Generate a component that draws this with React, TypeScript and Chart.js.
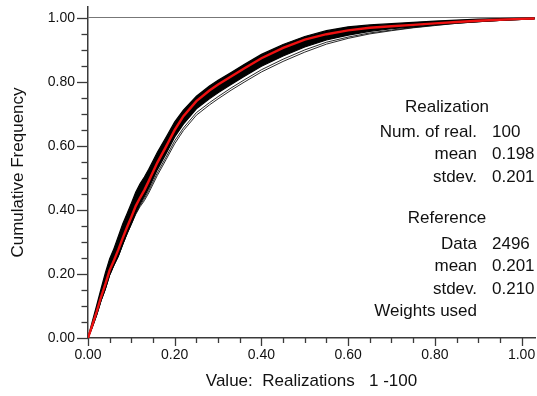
import React, { useEffect, useRef } from "react";
import { Chart, registerables } from "chart.js";

Chart.register(...registerables);

// Sample values (x) at which the cumulative curves are tabulated
const XS = [
  0, 0.01, 0.02, 0.03, 0.04, 0.05, 0.06, 0.07, 0.08, 0.09,
  0.1, 0.11, 0.12, 0.13, 0.14, 0.16, 0.18, 0.2, 0.22, 0.25,
  0.28, 0.3, 0.33, 0.36, 0.4, 0.45, 0.5, 0.55, 0.6, 0.65,
  0.7, 0.75, 0.8, 0.85, 0.9, 0.95, 1.0, 1.03,
];

// Reference data cumulative frequency (red)
const REFERENCE = [
  0.0, 0.04, 0.082, 0.128, 0.168, 0.212, 0.243, 0.276, 0.312, 0.346,
  0.378, 0.412, 0.438, 0.462, 0.49, 0.548, 0.598, 0.65, 0.693, 0.74,
  0.773, 0.792, 0.817, 0.842, 0.874, 0.906, 0.932, 0.949, 0.961, 0.969,
  0.974, 0.978, 0.983, 0.987, 0.991, 0.994, 0.997, 0.998,
];

// Upper and lower envelope of the bulk of the realizations
const BAND_HIGH = [
  0.0, 0.052, 0.102, 0.153, 0.203, 0.248, 0.28, 0.318, 0.356, 0.388,
  0.421, 0.455, 0.482, 0.503, 0.527, 0.58, 0.627, 0.675, 0.712, 0.755,
  0.787, 0.805, 0.829, 0.854, 0.886, 0.917, 0.942, 0.96, 0.972, 0.978,
  0.982, 0.986, 0.99, 0.993, 0.996, 0.998, 0.999, 1.0,
];
const BAND_LOW = [
  0.0, 0.034, 0.072, 0.116, 0.153, 0.197, 0.228, 0.256, 0.292, 0.326,
  0.358, 0.391, 0.419, 0.442, 0.468, 0.526, 0.576, 0.628, 0.668, 0.716,
  0.747, 0.766, 0.792, 0.817, 0.849, 0.881, 0.909, 0.931, 0.946, 0.958,
  0.966, 0.972, 0.979, 0.984, 0.988, 0.992, 0.995, 0.997,
];

// Two realizations running below the bulk
const REAL_LOW_A = [
  0.0, 0.034, 0.072, 0.116, 0.153, 0.197, 0.228, 0.256, 0.292, 0.326,
  0.357, 0.389, 0.414, 0.435, 0.46, 0.516, 0.565, 0.616, 0.656, 0.704,
  0.735, 0.754, 0.781, 0.806, 0.838, 0.871, 0.9, 0.924, 0.94, 0.953,
  0.962, 0.97, 0.977, 0.983, 0.988, 0.992, 0.995, 0.997,
];
const REAL_LOW_B = [
  0.0, 0.034, 0.072, 0.116, 0.153, 0.197, 0.228, 0.256, 0.292, 0.325,
  0.355, 0.386, 0.41, 0.429, 0.453, 0.508, 0.557, 0.607, 0.648, 0.696,
  0.728, 0.747, 0.774, 0.799, 0.831, 0.864, 0.893, 0.918, 0.936, 0.95,
  0.96, 0.969, 0.976, 0.983, 0.988, 0.992, 0.995, 0.997,
];

const X_MAX = 1.031;
const Y_MAX = 1.034;
const TICK_STEP = 0.05;
const LABEL_STEP = 0.2;

const REALIZATION_STATS: [string, string][] = [
  ["Num. of real.", "100"],
  ["mean", "0.198"],
  ["stdev.", "0.201"],
];
const REFERENCE_STATS: [string, string][] = [
  ["Data", "2496"],
  ["mean", "0.201"],
  ["stdev.", "0.210"],
  ["Weights used", ""],
];

const FONT = "'Liberation Sans', Arial, Helvetica, sans-serif";
const INK = "#111";
const AXIS = "#3a3a3a";

const toPoints = (ys: number[]) => XS.map((x, i) => ({ x, y: ys[i] }));

const isMultiple = (v: number, step: number) =>
  Math.abs(v / step - Math.round(v / step)) < 1e-6;

const labelFor = (v: any) => {
  const n = Number(v);
  return isMultiple(n, LABEL_STEP) && n <= 1 + 1e-9 ? n.toFixed(2) : "";
};

// Major/minor tick marks drawn outside the axes
const tickMarks = {
  id: "tickMarks",
  afterDraw(chart: any) {
    const { ctx, scales } = chart;
    const xs = scales.x;
    const ys = scales.y;
    ctx.save();
    ctx.strokeStyle = AXIS;
    ctx.lineWidth = 1.3;
    const n = Math.round(1 / TICK_STEP);
    for (let k = 0; k <= n; k++) {
      const v = k * TICK_STEP;
      const major = k % Math.round(LABEL_STEP / TICK_STEP) === 0;
      const py = Math.round(ys.getPixelForValue(v)) + 0.5;
      const yLen = major ? 11 : 6.5;
      ctx.beginPath();
      ctx.moveTo(ys.right - yLen, py);
      ctx.lineTo(ys.right, py);
      ctx.stroke();
      const px = Math.round(xs.getPixelForValue(v)) + 0.5;
      const xLen = major ? 8 : 5;
      ctx.beginPath();
      ctx.moveTo(px, xs.top);
      ctx.lineTo(px, xs.top + xLen);
      ctx.stroke();
    }
    ctx.restore();
  },
};

// Summary statistics panel
const statsPanel = {
  id: "statsPanel",
  afterDraw(chart: any) {
    const { ctx } = chart;
    ctx.save();
    ctx.fillStyle = INK;
    ctx.font = `17px ${FONT}`;
    ctx.textBaseline = "alphabetic";
    const colRight = 477;
    const colLeft = 492;
    const block = (title: string, rows: [string, string][], y0: number, y1: number) => {
      ctx.textAlign = "center";
      ctx.fillText(title, 447, y0);
      rows.forEach(([k, v], i) => {
        const y = y1 + i * 22.3;
        ctx.textAlign = "right";
        ctx.fillText(k, colRight, y);
        if (v) {
          ctx.textAlign = "left";
          ctx.fillText(v, colLeft, y);
        }
      });
    };
    block("Realization", REALIZATION_STATS, 112, 137);
    block("Reference", REFERENCE_STATS, 223, 249);
    ctx.restore();
  },
};

export default function App() {
  const canvasRef = useRef<HTMLCanvasElement | null>(null);

  useEffect(() => {
    document.body.style.margin = "0";
    const canvas = canvasRef.current;
    if (!canvas) return;

    const chart = new Chart(canvas, {
      type: "scatter",
      data: {
        datasets: [
          {
            label: "Reference",
            data: toPoints(REFERENCE),
            showLine: true,
            borderColor: "#ee1111",
            borderWidth: 2.4,
            pointRadius: 0,
            order: 0,
          },
          {
            label: "Realizations high",
            data: toPoints(BAND_HIGH),
            showLine: true,
            borderColor: "#000",
            backgroundColor: "#000",
            borderWidth: 1.2,
            pointRadius: 0,
            fill: "+1",
            order: 2,
          },
          {
            label: "Realizations low",
            data: toPoints(BAND_LOW),
            showLine: true,
            borderColor: "#000",
            borderWidth: 1.2,
            pointRadius: 0,
            order: 2,
          },
          {
            label: "Realization A",
            data: toPoints(REAL_LOW_A),
            showLine: true,
            borderColor: "#111",
            borderWidth: 0.9,
            pointRadius: 0,
            order: 3,
          },
          {
            label: "Realization B",
            data: toPoints(REAL_LOW_B),
            showLine: true,
            borderColor: "#111",
            borderWidth: 0.9,
            pointRadius: 0,
            order: 3,
          },
        ],
      },
      options: {
        responsive: false,
        animation: false,
        layout: { padding: { top: 7, right: 2, left: 0, bottom: 0 } },
        plugins: {
          legend: { display: false },
          tooltip: { enabled: false },
        },
        scales: {
          x: {
            type: "linear",
            min: 0,
            max: X_MAX,
            afterFit: (s: any) => {
              s.height = 58;
              s.paddingLeft = 0;
              s.paddingRight = 0;
            },
            border: { display: true, color: AXIS, width: 1.5 },
            grid: { display: false, drawTicks: false },
            ticks: {
              stepSize: TICK_STEP,
              includeBounds: false,
              autoSkip: false,
              maxRotation: 0,
              padding: 9,
              color: INK,
              font: { family: FONT, size: 14 },
              callback: labelFor,
            },
            title: {
              display: true,
              text: "Value:  Realizations   1 -100",
              color: INK,
              font: { family: FONT, size: 17 },
              padding: { top: 0, bottom: 4 },
            },
          },
          y: {
            type: "linear",
            min: 0,
            max: Y_MAX,
            afterFit: (s: any) => {
              s.width = 88;
              s.paddingTop = 0;
              s.paddingBottom = 0;
            },
            border: { display: true, color: AXIS, width: 1.5 },
            grid: {
              drawTicks: false,
              lineWidth: 1,
              color: (c: any) => (c.tick && Math.abs(c.tick.value - 1) < 1e-6 ? "#777" : "rgba(0,0,0,0)"),
            },
            ticks: {
              stepSize: TICK_STEP,
              includeBounds: false,
              autoSkip: false,
              padding: 13,
              color: INK,
              font: { family: FONT, size: 14 },
              callback: labelFor,
            },
            title: {
              display: true,
              text: "Cumulative Frequency",
              color: INK,
              font: { family: FONT, size: 17 },
              padding: { top: 8, bottom: 0 },
            },
          },
        },
      },
      plugins: [tickMarks, statsPanel],
    } as any);

    return () => chart.destroy();
  }, []);

  return (
    <div style={{ width: 537, height: 396, background: "#fff" }}>
      <canvas ref={canvasRef} width={537} height={396} />
    </div>
  );
}
